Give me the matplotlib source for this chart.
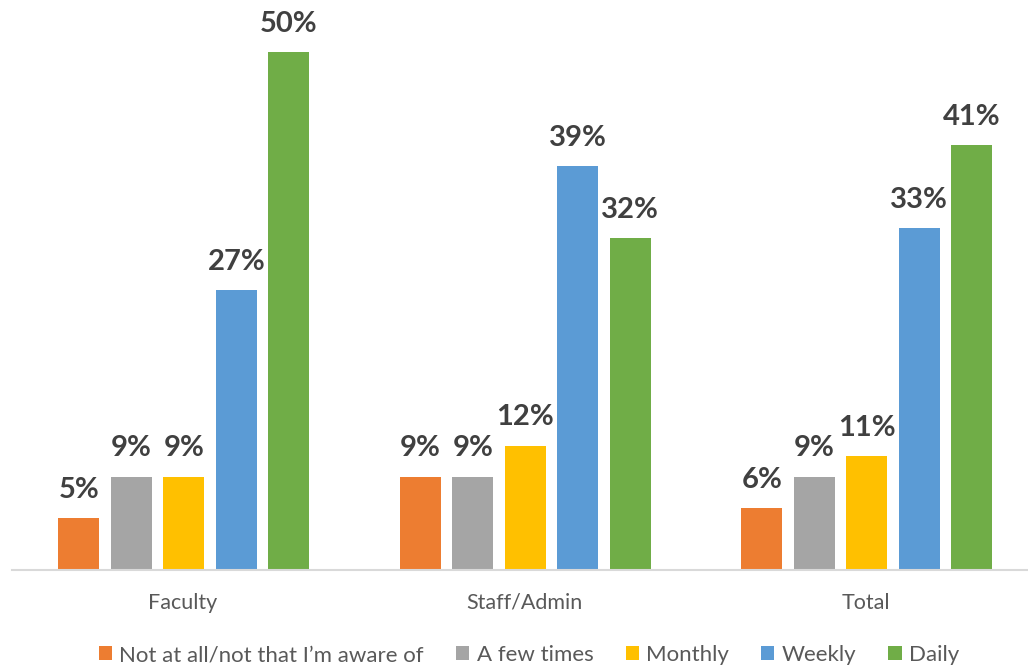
import matplotlib
matplotlib.use("Agg")
import matplotlib.pyplot as plt
from matplotlib.patches import Patch
import numpy as np

plt.rcParams['font.family'] = ['Lato', 'DejaVu Sans']

groups = ["Faculty", "Staff/Admin", "Total"]
series = ["Not at all/not that I\u2019m aware of", "A few times", "Monthly", "Weekly", "Daily"]
colors = ["#ED7D31", "#A5A5A5", "#FFC000", "#5B9BD5", "#70AD47"]
not_at_all = [5, 9, 6]
few_times = [9, 9, 9]
monthly = [9, 12, 11]
weekly = [27, 39, 33]
daily = [50, 32, 41]
values = [not_at_all, few_times, monthly, weekly, daily]

W, H = 1028, 667
fig = plt.figure(figsize=(W / 100, H / 100), dpi=100)
ax = fig.add_axes([12 / W, (H - 570) / H, 1024.5 / W, 570 / H])

x = np.arange(len(groups))
pitch = 0.1537
width = 0.12
for i, (vals, c) in enumerate(zip(values, colors)):
    offs = (i - 2) * pitch
    bars = ax.bar(x + offs + 0.003, vals, width=width, color=c, zorder=2)
    for b, v in zip(bars, vals):
        ax.annotate(f"{v}%", (b.get_x() + b.get_width() / 2, v),
                    xytext=(0, 11), textcoords="offset points",
                    ha="center", va="bottom", fontsize=21,
                    fontweight="bold", color="#404040")

ax.set_xlim(-0.5, 2.5)
ax.set_ylim(0, 55)
ax.set_yticks([])
ax.set_xticks(x)
ax.set_xticklabels(groups, fontsize=15.5, color="#595959")
ax.tick_params(axis="x", length=0, pad=16.5)
for s in ["top", "left", "right"]:
    ax.spines[s].set_visible(False)
ax.spines["bottom"].set_color("#D9D9D9")
ax.spines["bottom"].set_linewidth(1.5)

handles = [Patch(facecolor=c, edgecolor="none") for c in colors]
fig.legend(handles, series, loc="center", bbox_to_anchor=(529 / W, 1 - 655 / H),
           ncol=5, frameon=False, fontsize=16, labelcolor="#595959",
           handlelength=0.6, handleheight=0.6, handletextpad=0.32,
           columnspacing=1.45)

fig.savefig("out.png", dpi=100)
